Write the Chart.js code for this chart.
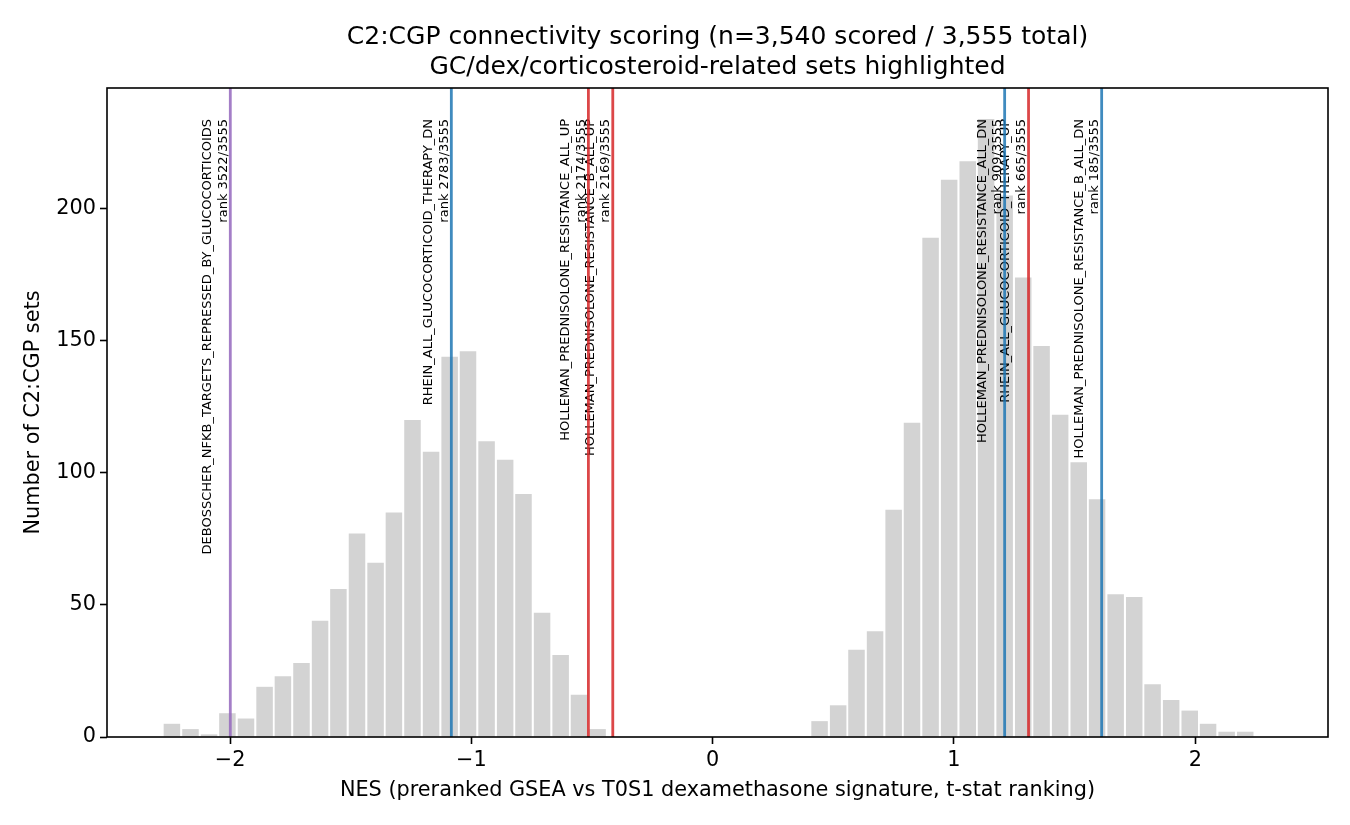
<!DOCTYPE html>
<html>
<head>
<meta charset="utf-8">
<script src="https://cdn.jsdelivr.net/npm/chart.js@4.4.1/dist/chart.umd.min.js"></script>
<style>
  html, body { margin: 0; padding: 0; background: #fff; }
  canvas { display: block; }
</style>
</head>
<body>
<canvas id="chart" width="1350" height="825"></canvas>
<script>
/* =======================
   DATA
======================= */

// bin centres (NES) of the histogram
const binCenters = [
  -2.241, -2.164, -2.087, -2.011, -1.934, -1.857, -1.781, -1.704, -1.627, -1.551,
  -1.474, -1.397, -1.321, -1.244, -1.167, -1.090, -1.014, -0.937, -0.860, -0.784,
  -0.707, -0.630, -0.554, -0.477, -0.400, -0.324, -0.247, -0.170, -0.094, -0.017,
   0.060,  0.136,  0.213,  0.290,  0.366,  0.443,  0.520,  0.596,  0.673,  0.750,
   0.826,  0.903,  0.980,  1.057,  1.133,  1.210,  1.287,  1.363,  1.440,  1.517,
   1.593,  1.670,  1.747,  1.823,  1.900,  1.977,  2.053,  2.130,  2.207
];

// number of C2:CGP sets per bin
const binCounts = [
    5,   3,   1,   9,   7,  19,  23,  28,  44,  56,
   77,  66,  85, 120, 108, 144, 146, 112, 105,  92,
   47,  31,  16,   3,   0,   0,   0,   0,   0,   0,
    0,   0,   0,   0,   0,   6,  12,  33,  40,  86,
  119, 189, 211, 218, 234, 205, 174, 148, 122, 104,
   90,  54,  53,  20,  14,  10,   5,   2,   2
];

// highlighted gene sets (drawn in rank order)
const setNames = [
  "HOLLEMAN_PREDNISOLONE_RESISTANCE_B_ALL_DN",
  "RHEIN_ALL_GLUCOCORTICOID_THERAPY_UP",
  "HOLLEMAN_PREDNISOLONE_RESISTANCE_ALL_DN",
  "HOLLEMAN_PREDNISOLONE_RESISTANCE_B_ALL_UP",
  "HOLLEMAN_PREDNISOLONE_RESISTANCE_ALL_UP",
  "RHEIN_ALL_GLUCOCORTICOID_THERAPY_DN",
  "DEBOSSCHER_NFKB_TARGETS_REPRESSED_BY_GLUCOCORTICOIDS"
];
const setNES = [1.612, 1.309, 1.210, -0.414, -0.515, -1.083, -1.999];
const setRanks = [185, 665, 909, 2169, 2174, 2783, 3522];
const setColors = [
  "rgba(31,119,180,0.85)",
  "rgba(214,39,40,0.85)",
  "rgba(31,119,180,0.85)",
  "rgba(214,39,40,0.85)",
  "rgba(214,39,40,0.85)",
  "rgba(31,119,180,0.85)",
  "rgba(148,103,189,0.85)"
];
const totalSets = 3555;

const xTicks = [-2, -1, 0, 1, 2];
const yTicks = [0, 50, 100, 150, 200];

const titleLines = [
  "C2:CGP connectivity scoring (n=3,540 scored / 3,555 total)",
  "GC/dex/corticosteroid-related sets highlighted"
];
const xLabel = "NES (preranked GSEA vs T0S1 dexamethasone signature, t-stat ranking)";
const yLabel = "Number of C2:CGP sets";

/* =======================
   DRAWING
======================= */

const FONT = '"DejaVu Sans", "Liberation Sans", sans-serif';
const fmtTick = v => (v < 0 ? "\u2212" + Math.abs(v) : String(v));

// vertical lines, rotated labels, title and the axes box
const markerPlugin = {
  id: "markers",
  afterDatasetsDraw(chart) {
    const { ctx, chartArea: a, scales: { x, y } } = chart;
    const labelTop = y.getPixelForValue(234);

    setNames.forEach((name, i) => {
      const px = x.getPixelForValue(setNES[i]);

      ctx.save();
      ctx.strokeStyle = setColors[i];
      ctx.lineWidth = 2.8;
      ctx.beginPath();
      ctx.moveTo(px, a.top);
      ctx.lineTo(px, a.bottom);
      ctx.stroke();
      ctx.restore();

      ctx.save();
      ctx.translate(px - 0.5, labelTop);
      ctx.rotate(-Math.PI / 2);
      ctx.font = "13px " + FONT;
      ctx.fillStyle = "#000";
      ctx.textAlign = "right";
      ctx.textBaseline = "alphabetic";
      ctx.fillText(`rank ${setRanks[i]}/${totalSets}`, 0, -3);
      ctx.fillText(name, 0, -3 - 15.6);
      ctx.restore();
    });
  },
  afterDraw(chart) {
    const { ctx, chartArea: a } = chart;
    ctx.save();
    ctx.strokeStyle = "#000";
    ctx.lineWidth = 1.6;
    ctx.strokeRect(a.left, a.top, a.right - a.left, a.bottom - a.top);

    ctx.fillStyle = "#000";
    ctx.font = "25px " + FONT;
    ctx.textAlign = "center";
    ctx.textBaseline = "middle";
    const cx = (a.left + a.right) / 2;
    titleLines.forEach((t, i) => ctx.fillText(t, cx, 37 + i * 30));
    ctx.restore();
  }
};

new Chart(document.getElementById("chart"), {
  type: "bar",
  data: {
    datasets: [{
      data: binCenters.map((c, i) => ({ x: c, y: binCounts[i] })),
      backgroundColor: "#d3d3d3",
      borderWidth: 0,
      barPercentage: 0.9,
      categoryPercentage: 1.0
    }]
  },
  options: {
    responsive: false,
    animation: false,
    devicePixelRatio: 1,
    layout: { padding: { left: 0, right: 22, top: 88, bottom: 0 } },
    plugins: {
      legend: { display: false },
      tooltip: { enabled: false },
      title: { display: false }
    },
    scales: {
      x: {
        type: "linear",
        min: -2.51,
        max: 2.55,
        offset: false,
        afterBuildTicks: s => { s.ticks = xTicks.map(v => ({ value: v })); },
        afterFit: s => { s.height = 88; },
        grid: {
          offset: false,
          drawOnChartArea: false,
          drawTicks: true,
          tickLength: 7,
          tickWidth: 1.6,
          tickColor: "#000"
        },
        border: { display: false },
        ticks: {
          color: "#000",
          font: { family: FONT, size: 20.8 },
          padding: 4,
          maxRotation: 0,
          callback: v => fmtTick(v)
        },
        title: {
          display: true,
          text: xLabel,
          color: "#000",
          font: { family: FONT, size: 20.8 },
          padding: { top: 0, bottom: 22 }
        }
      },
      y: {
        min: 0,
        max: 245.7,
        afterBuildTicks: s => { s.ticks = yTicks.map(v => ({ value: v })); },
        afterFit: s => { s.width = 107; },
        grid: {
          drawOnChartArea: false,
          drawTicks: true,
          tickLength: 7,
          tickWidth: 1.6,
          tickColor: "#000"
        },
        border: { display: false },
        ticks: {
          color: "#000",
          font: { family: FONT, size: 20.8 },
          padding: 4,
          callback: v => fmtTick(v)
        },
        title: {
          display: true,
          text: yLabel,
          color: "#000",
          font: { family: FONT, size: 20.8 },
          padding: { top: 21, bottom: 0 }
        }
      }
    }
  },
  plugins: [markerPlugin]
});
</script>
</body>
</html>
